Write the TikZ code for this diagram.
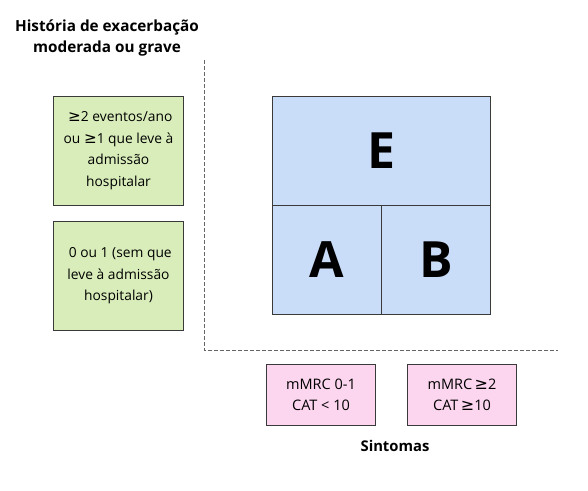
\documentclass[tikz,border=0pt]{standalone}
\usepackage{fontspec}
\setmainfont{Open Sans}
\newfontfamily\symfont[Scale=1.1]{DejaVu Sans}
\newcommand{\myge}{{\symfont ≥}}
\definecolor{gfill}{HTML}{D9EDBA}
\definecolor{bfill}{HTML}{C9DCF8}
\definecolor{pfill}{HTML}{FCD6EE}
\definecolor{edge}{HTML}{3A3A3A}
\tikzset{
  gbox/.style={draw=edge, line width=0.9pt, fill=gfill, minimum width=130pt, minimum height=109pt, align=center, font=\fontsize{13.8}{21.5}\selectfont, inner sep=0pt},
  pbox/.style={draw=edge, line width=0.9pt, fill=pfill, minimum width=109pt, minimum height=61pt, align=center, font=\fontsize{14.5}{21}\selectfont, inner sep=0pt},
  bcell/.style={draw=edge, line width=0.9pt, fill=bfill, inner sep=0pt},
  big/.style={font=\fontsize{50}{50}\selectfont\bfseries},
  axis/.style={draw=gray!80!black, dash pattern=on 4pt off 2pt, line width=0.9pt},
  lbl/.style={font=\fontsize{15.3}{21.5}\selectfont\bfseries, align=center}
}
\begin{document}
\begin{tikzpicture}[x=1pt,y=-1pt]
\useasboundingbox (0,0) rectangle (588,490);
\fill[white] (0,0) rectangle (588,490);
\node[lbl] (title) at (107,38) {História de exacerbação\\moderada ou grave};
\coordinate (ytop) at (204.5,60);
\coordinate (origin) at (204.5,350.5);
\coordinate (xend) at (558,350.5);
\draw[axis] (ytop) -- (origin) -- (xend);
\node[gbox] (g1) at (118.5,150.5) {\ \myge2 eventos/ano\\ou \myge1 que leve à\\admissão\\hospitalar};
\node[gbox] (g2) at (118.5,276) {\ 0 ou 1 (sem que\\leve à admissão\\hospitalar)};
\node[bcell, minimum width=218pt, minimum height=109pt] (E) at (381.5,151) {};
\node[bcell, minimum width=109pt, minimum height=109pt] (A) at (327,260) {};
\node[bcell, minimum width=109pt, minimum height=109pt] (B) at (436,260) {};
\node[big] at (E) {E};
\node[big] at (A) {A};
\node[big] at (B) {B};
\node[pbox] (p1) at (321,394.5) {mMRC 0-1\\CAT < 10};
\node[pbox] (p2) at (462,394.5) {mMRC\,\myge2\\CAT\,\myge10};
\node[lbl, font=\fontsize{14.8}{20}\selectfont\bfseries] (sint) at (395,446) {Sintomas};
\end{tikzpicture}
\end{document}
